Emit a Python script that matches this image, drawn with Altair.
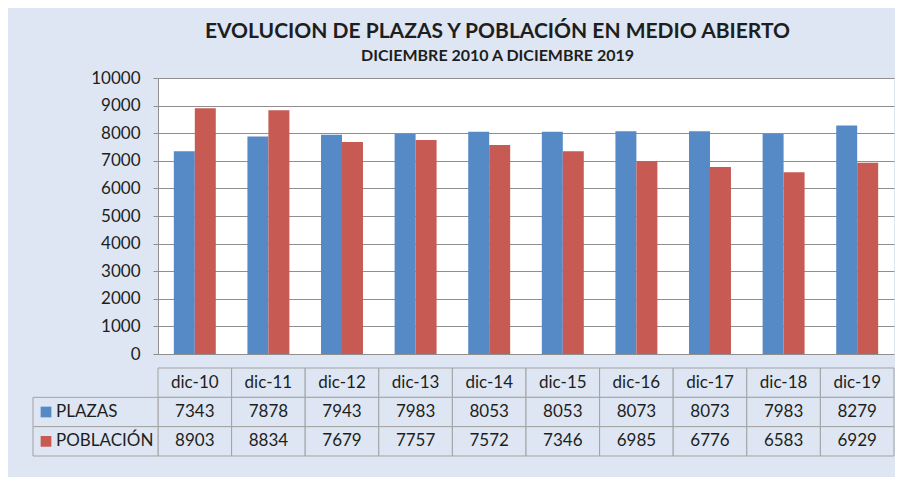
import altair as alt
import pandas as pd

categories = ["dic-10", "dic-11", "dic-12", "dic-13", "dic-14", "dic-15", "dic-16", "dic-17", "dic-18", "dic-19"]
series = ["PLAZAS", "POBLACIÓN"]
plazas = [7343, 7878, 7943, 7983, 8053, 8053, 8073, 8073, 7983, 8279]
poblacion = [8903, 8834, 7679, 7757, 7572, 7346, 6985, 6776, 6583, 6929]
y_ticks = list(range(0, 10001, 1000))

BG = "#dde6f2"
BLUE = "#568ac6"
RED = "#c75a52"
GRID = "#8f8f8f"
CELL = "#a3a3a3"
TXT = "#1e1e1e"
FONT = "Lato"

rows = []
for c, p, q in zip(categories, plazas, poblacion):
    rows.append({"cat": c, "serie": "PLAZAS", "value": p})
    rows.append({"cat": c, "serie": "POBLACIÓN", "value": q})
df = pd.DataFrame(rows)

bars = alt.Chart(df).mark_bar().encode(
    x=alt.X("cat:N", sort=categories, axis=None,
            scale=alt.Scale(paddingInner=0.43, paddingOuter=0.215)),
    xOffset=alt.XOffset("serie:N", sort=series, scale=alt.Scale(paddingInner=0, paddingOuter=0)),
    y=alt.Y("value:Q", scale=alt.Scale(domain=[0, 10000], nice=False),
            axis=alt.Axis(values=y_ticks, title=None, grid=True, gridColor=GRID,
                          gridOpacity=1, domainColor=GRID, tickColor=GRID, tickSize=5,
                          labelFontSize=17, labelFont=FONT, labelColor=TXT,
                          labelPadding=13, format="d")),
    color=alt.Color("serie:N", scale=alt.Scale(domain=series, range=[BLUE, RED]), legend=None),
).properties(width=736, height=276)

# table
row_order = ["hdr", "PLAZAS", "POBLACIÓN"]
cells = []
for c, p, q in zip(categories, plazas, poblacion):
    cells.append({"col": c, "row": "hdr", "txt": c})
    cells.append({"col": c, "row": "PLAZAS", "txt": str(p)})
    cells.append({"col": c, "row": "POBLACIÓN", "txt": str(q)})
cdf = pd.DataFrame(cells)
ldf = pd.DataFrame({"row": series, "serie": series})

xs = alt.X("col:N", sort=categories, axis=None, scale=alt.Scale(paddingInner=0, paddingOuter=0))
ys = alt.Y("row:N", sort=row_order, axis=None, scale=alt.Scale(paddingInner=0, paddingOuter=0))

cell_rects = alt.Chart(cdf).mark_rect(fill=BG, stroke=CELL, strokeWidth=1).encode(x=xs, y=ys)
cell_text = alt.Chart(cdf).mark_text(fontSize=17, font=FONT, color=TXT, baseline="middle").encode(
    x=xs, y=ys, text="txt:N")
lab_rects = alt.Chart(ldf).mark_rect(fill=BG, stroke=CELL, strokeWidth=1).encode(
    x=alt.value(-125), x2=alt.value(0), y=ys)
lab_sq = alt.Chart(ldf).mark_square(size=115, opacity=1).encode(
    x=alt.value(-112), y=ys,
    color=alt.Color("serie:N", scale=alt.Scale(domain=series, range=[BLUE, RED]), legend=None))
lab_txt = alt.Chart(ldf).mark_text(fontSize=17, font=FONT, color=TXT, align="left", baseline="middle").encode(
    x=alt.value(-102), y=ys, text="serie:N")

table = alt.layer(cell_rects, cell_text, lab_rects, lab_sq, lab_txt).properties(width=736, height=88)

chart = alt.vconcat(bars, table, spacing=14, bounds="flush").resolve_scale(
    x="independent", color="independent"
).properties(
    title=alt.TitleParams(
        text="EVOLUCION DE PLAZAS Y POBLACIÓN EN MEDIO ABIERTO",
        subtitle="DICIEMBRE 2010 A  DICIEMBRE 2019",
        anchor="middle", font=FONT, fontSize=21, fontWeight="bold", color=TXT,
        subtitleFont=FONT, subtitleFontSize=16, subtitleFontWeight="bold", subtitleColor=TXT,
        subtitlePadding=6, offset=5, dx=34,
    ),
    background=BG,
    padding={"left": 24, "top": 13, "right": 0, "bottom": 20},
).configure_view(stroke=None, fill="white")

chart.save("out.html", embed_options={"renderer": "svg", "actions": False})
